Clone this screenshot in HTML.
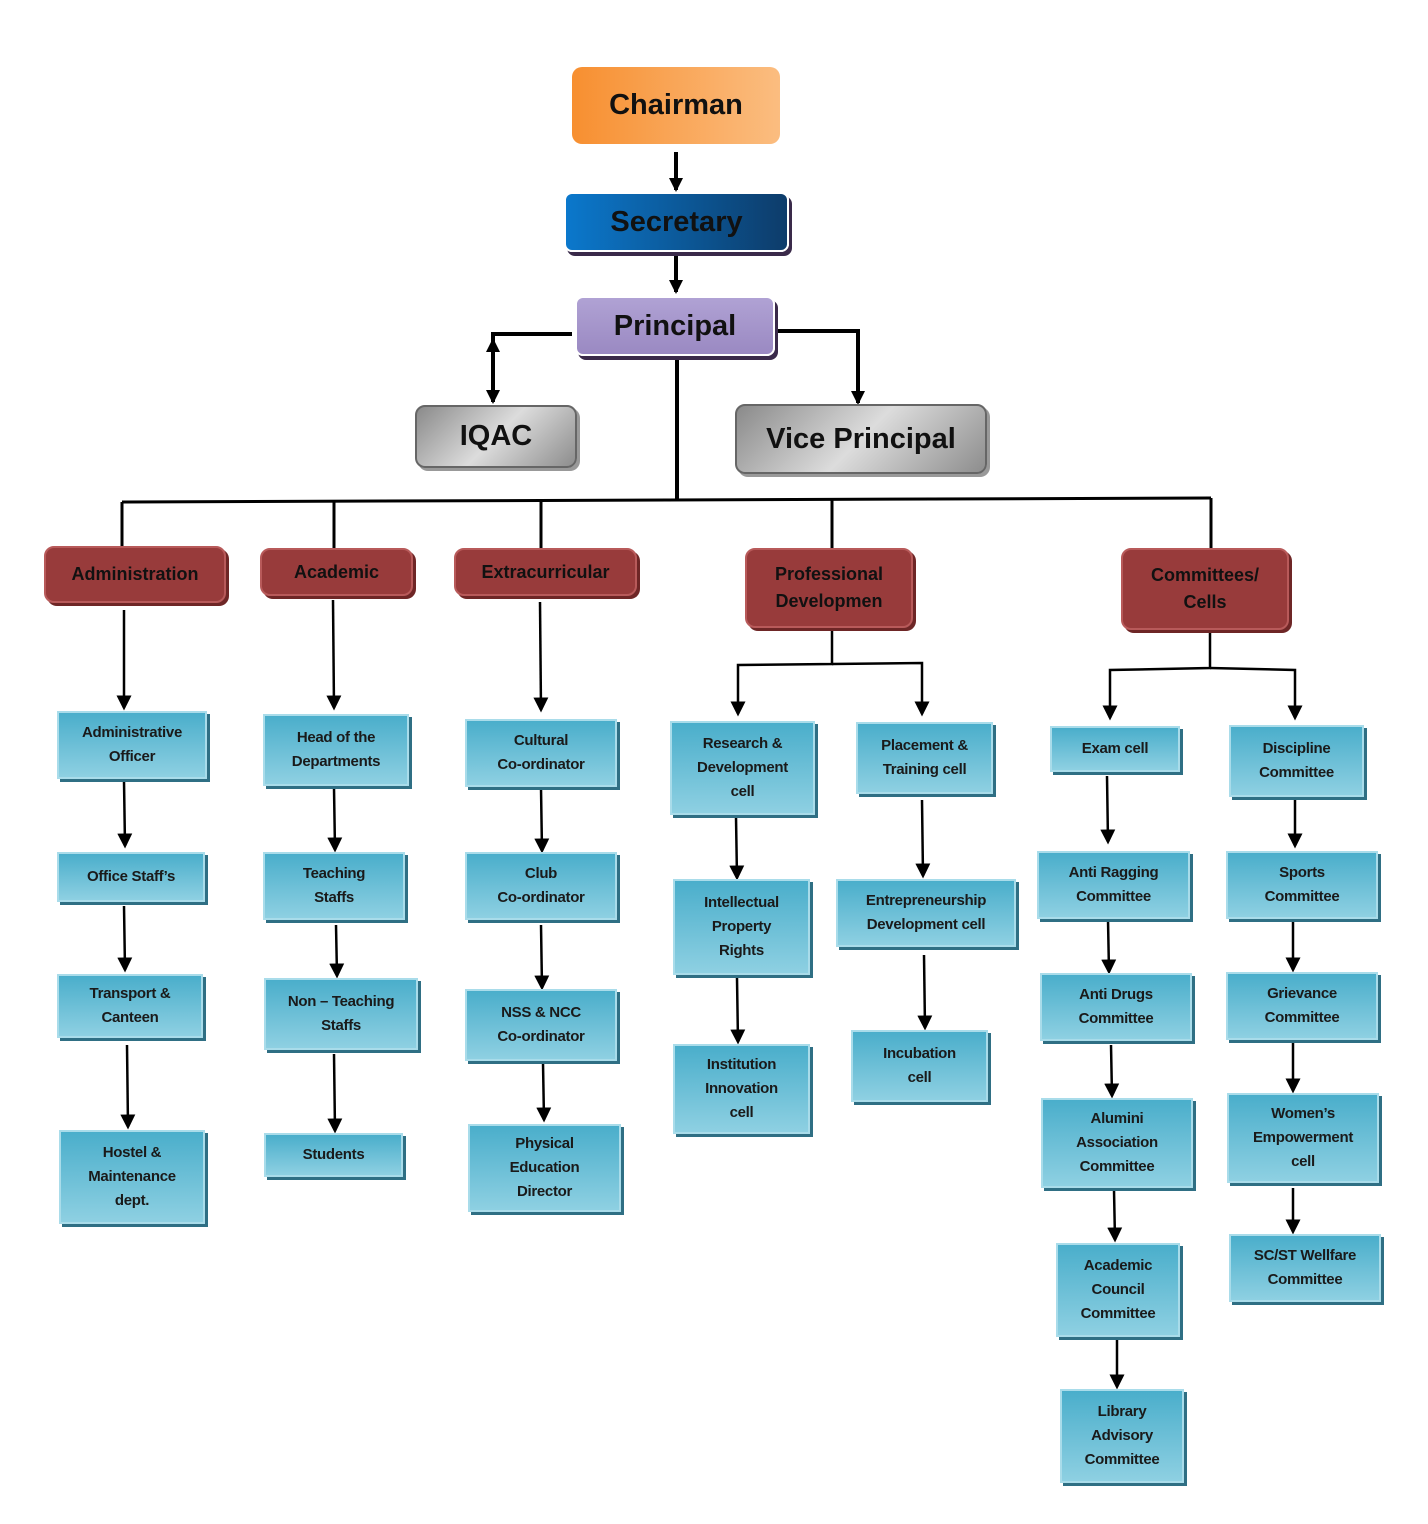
<!DOCTYPE html>
<html><head><meta charset="utf-8"><style>
body{margin:0;width:1428px;height:1524px;background:#fff;position:relative;overflow:hidden;font-family:"Liberation Sans",sans-serif}
.b{position:absolute;display:flex;align-items:center;justify-content:center;text-align:center;font-weight:bold;box-sizing:border-box}
.c{background:linear-gradient(#4aaecb,#8ed0e2);border:2px solid #a9dcea;box-shadow:3px 3px 0 #2f6f84;color:#1a1a1a;font-size:15px;line-height:24px;letter-spacing:-0.3px}
.r{background:#983b3b;border:2px solid #b85a5a;border-radius:10px;box-shadow:3px 3px 0 #6e2626;color:#111;font-size:18px;line-height:27px}
.g{background:linear-gradient(135deg,#8a8a8a,#dcdcdc 50%,#8d8d8d);border:2px solid #666;border-radius:10px;box-shadow:3px 3px 0 #999;color:#111;font-size:29px}
svg{position:absolute;left:0;top:0}
</style></head><body>
<svg width="1428" height="1524">
<defs><marker id="a" markerWidth="6" markerHeight="6" refX="5" refY="3" orient="auto" markerUnits="strokeWidth"><path d="M0,0L6,3L0,6z" fill="#000"/></marker>
<marker id="t" markerWidth="14" markerHeight="14" refX="12" refY="7" orient="auto" markerUnits="userSpaceOnUse"><path d="M0,0L14,7L0,14z" fill="#000"/></marker>
<marker id="s" markerWidth="14" markerHeight="14" refX="2" refY="7" orient="auto" markerUnits="userSpaceOnUse"><path d="M14,0L0,7L14,14z" fill="#000"/></marker></defs>
<g stroke="#000" stroke-width="4" fill="none">
<line x1="676" y1="152" x2="676" y2="190" marker-end="url(#t)"/>
<line x1="676" y1="255" x2="676" y2="292" marker-end="url(#t)"/>
<polyline points="572,334 493,334 493,340"/>
<line x1="493" y1="340" x2="493" y2="402" marker-start="url(#s)" marker-end="url(#t)"/>
<polyline points="777,331 858,331 858,403" marker-end="url(#t)"/>
<line x1="677" y1="358" x2="677" y2="501"/>
</g>
<g stroke="#000" stroke-width="3" fill="none">
<line x1="122" y1="502" x2="1211" y2="498"/>
<line x1="122" y1="502" x2="122" y2="546"/><line x1="334" y1="502" x2="334" y2="548"/>
<line x1="541" y1="502" x2="541" y2="548"/><line x1="832" y1="500" x2="832" y2="548"/><line x1="1211" y1="498" x2="1211" y2="548"/>
</g>
<g stroke="#000" stroke-width="2.5" fill="none" marker-end="url(#a)">
<line x1="124" y1="610" x2="124" y2="708"/><line x1="124" y1="781" x2="125" y2="846"/><line x1="124" y1="906" x2="125" y2="970"/><line x1="127" y1="1045" x2="128" y2="1127"/>
<line x1="333" y1="600" x2="334" y2="708"/><line x1="334" y1="788" x2="335" y2="850"/><line x1="336" y1="925" x2="337" y2="976"/><line x1="334" y1="1054" x2="335" y2="1131"/>
<line x1="540" y1="602" x2="541" y2="710"/><line x1="541" y1="788" x2="542" y2="851"/><line x1="541" y1="925" x2="542" y2="988"/><line x1="543" y1="1063" x2="544" y2="1120"/>
<line x1="736" y1="817" x2="737" y2="878"/><line x1="737" y1="978" x2="738" y2="1042"/>
<line x1="922" y1="800" x2="923" y2="876"/><line x1="924" y1="955" x2="925" y2="1028"/>
<line x1="1107" y1="776" x2="1108" y2="842"/><line x1="1108" y1="920" x2="1109" y2="972"/><line x1="1111" y1="1045" x2="1112" y2="1096"/><line x1="1114" y1="1190" x2="1115" y2="1240"/><line x1="1117" y1="1340" x2="1117" y2="1387"/>
<line x1="1295" y1="800" x2="1295" y2="846"/><line x1="1293" y1="922" x2="1293" y2="970"/><line x1="1293" y1="1042" x2="1293" y2="1091"/><line x1="1293" y1="1188" x2="1293" y2="1232"/>
<polyline points="832,630 832,664 738,665 738,714"/><polyline points="832,664 922,663 922,714"/>
<polyline points="1210,632 1210,668 1110,670 1110,718"/><polyline points="1210,668 1295,670 1295,718"/>
</g></svg>

<div class="b" style="left:572px;top:67px;width:208px;height:77px;background:linear-gradient(90deg,#f78f30,#fbbd80);border-radius:10px;font-size:29px;color:#111">Chairman</div>
<div class="b" style="left:564px;top:192px;width:225px;height:60px;background:linear-gradient(90deg,#0b78cc,#0d3c6a);border:2px solid #fff;border-radius:8px;box-shadow:3px 4px 0 #3a2a4a;font-size:29px;color:#111">Secretary</div>
<div class="b" style="left:575px;top:296px;width:200px;height:60px;background:linear-gradient(#b0a2d4,#9a89c2);border:2px solid #fff;border-radius:8px;box-shadow:3px 4px 0 #3a2a4a;font-size:29px;color:#111">Principal</div>
<div class="b g" style="left:415px;top:405px;width:162px;height:63px">IQAC</div>
<div class="b g" style="left:735px;top:404px;width:252px;height:70px">Vice Principal</div>

<div class="b r" style="left:44px;top:546px;width:182px;height:57px">Administration</div>
<div class="b r" style="left:260px;top:548px;width:153px;height:48px">Academic</div>
<div class="b r" style="left:454px;top:548px;width:183px;height:48px">Extracurricular</div>
<div class="b r" style="left:745px;top:548px;width:168px;height:80px">Professional<br>Developmen</div>
<div class="b r" style="left:1121px;top:548px;width:168px;height:82px">Committees/<br>Cells</div>

<div class="b c" style="left:57px;top:711px;width:150px;height:68px">Administrative<br>Officer</div>
<div class="b c" style="left:57px;top:852px;width:148px;height:50px">Office Staff’s</div>
<div class="b c" style="left:57px;top:974px;width:146px;height:64px">Transport &amp;<br>Canteen</div>
<div class="b c" style="left:59px;top:1130px;width:146px;height:94px">Hostel &amp;<br>Maintenance<br>dept.</div>

<div class="b c" style="left:263px;top:714px;width:146px;height:72px">Head of the<br>Departments</div>
<div class="b c" style="left:263px;top:852px;width:142px;height:68px">Teaching<br>Staffs</div>
<div class="b c" style="left:264px;top:978px;width:154px;height:72px">Non – Teaching<br>Staffs</div>
<div class="b c" style="left:264px;top:1133px;width:139px;height:44px">Students</div>

<div class="b c" style="left:465px;top:719px;width:152px;height:68px">Cultural<br>Co-ordinator</div>
<div class="b c" style="left:465px;top:852px;width:152px;height:68px">Club<br>Co-ordinator</div>
<div class="b c" style="left:465px;top:989px;width:152px;height:72px">NSS &amp; NCC<br>Co-ordinator</div>
<div class="b c" style="left:468px;top:1124px;width:153px;height:88px">Physical<br>Education<br>Director</div>

<div class="b c" style="left:670px;top:721px;width:145px;height:94px">Research &amp;<br>Development<br>cell</div>
<div class="b c" style="left:673px;top:879px;width:137px;height:96px">Intellectual<br>Property<br>Rights</div>
<div class="b c" style="left:673px;top:1044px;width:137px;height:90px">Institution<br>Innovation<br>cell</div>

<div class="b c" style="left:856px;top:722px;width:137px;height:72px">Placement &amp;<br>Training cell</div>
<div class="b c" style="left:836px;top:879px;width:180px;height:68px">Entrepreneurship<br>Development cell</div>
<div class="b c" style="left:851px;top:1030px;width:137px;height:72px">Incubation<br>cell</div>

<div class="b c" style="left:1050px;top:726px;width:130px;height:46px">Exam cell</div>
<div class="b c" style="left:1037px;top:851px;width:153px;height:68px">Anti Ragging<br>Committee</div>
<div class="b c" style="left:1040px;top:973px;width:152px;height:68px">Anti Drugs<br>Committee</div>
<div class="b c" style="left:1041px;top:1098px;width:152px;height:90px">Alumini<br>Association<br>Committee</div>
<div class="b c" style="left:1056px;top:1243px;width:124px;height:94px">Academic<br>Council<br>Committee</div>
<div class="b c" style="left:1060px;top:1389px;width:124px;height:94px">Library<br>Advisory<br>Committee</div>

<div class="b c" style="left:1229px;top:725px;width:135px;height:72px">Discipline<br>Committee</div>
<div class="b c" style="left:1226px;top:851px;width:152px;height:68px">Sports<br>Committee</div>
<div class="b c" style="left:1226px;top:972px;width:152px;height:68px">Grievance<br>Committee</div>
<div class="b c" style="left:1227px;top:1093px;width:152px;height:90px">Women’s<br>Empowerment<br>cell</div>
<div class="b c" style="left:1229px;top:1234px;width:152px;height:68px">SC/ST Wellfare<br>Committee</div>
</body></html>
